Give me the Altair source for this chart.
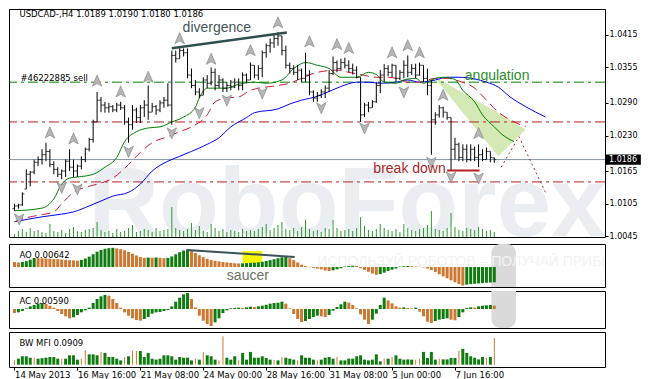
import altair as alt
import pandas as pd

# ---------------- data ----------------
TITLE = "USDCAD-,H4  1.0189 1.0190 1.0180 1.0186"
DATE_TICKS = [0, 16, 32, 48, 64, 80, 96, 112]
DATE_LABELS = ["14 May 2013", "16 May 16:00", "21 May 08:00", "24 May 00:00",
               "28 May 16:00", "31 May 08:00", "5 Jun 00:00", "7 Jun 16:00"]
PRICE_TICKS = [1.0045, 1.0105, 1.0165, 1.0230, 1.0290, 1.0355, 1.0415]
AO_TICKS = [-0.01125, 0.0, 0.01188]
AC_TICKS = [-0.00345, 0.0, 0.00321]
MFI_TICKS = [0.0, 0.1018]

HIGH = [1.0105, 1.0105, 1.0126, 1.0168, 1.0165, 1.0186, 1.0192, 1.0205, 1.0217, 1.0205,
        1.0183, 1.0172, 1.0168, 1.0186, 1.0205, 1.0186, 1.0177, 1.0192, 1.0208, 1.0226,
        1.0259, 1.0310, 1.0301, 1.0292, 1.0290, 1.0286, 1.0290, 1.0292, 1.0286, 1.0263,
        1.0286, 1.0281, 1.0286, 1.0295, 1.0322, 1.0290, 1.0286, 1.0295, 1.0301, 1.0326,
        1.0386, 1.0386, 1.0391, 1.0390, 1.0390, 1.0353, 1.0332, 1.0317, 1.0337, 1.0341,
        1.0355, 1.0353, 1.0341, 1.0335, 1.0328, 1.0332, 1.0335, 1.0335, 1.0346, 1.0344,
        1.0364, 1.0359, 1.0359, 1.0386, 1.0399, 1.0408, 1.0417, 1.0420, 1.0413, 1.0395,
        1.0364, 1.0359, 1.0359, 1.0353, 1.0382, 1.0350, 1.0313, 1.0310, 1.0315, 1.0322,
        1.0350, 1.0375, 1.0368, 1.0371, 1.0373, 1.0368, 1.0362, 1.0357, 1.0337, 1.0290,
        1.0292, 1.0295, 1.0328, 1.0350, 1.0361, 1.0359, 1.0362, 1.0359, 1.0350, 1.0368,
        1.0377, 1.0361, 1.0362, 1.0364, 1.0359, 1.0353, 1.0332, 1.0273, 1.0286, 1.0283,
        1.0273, 1.0263, 1.0226, 1.0217, 1.0214, 1.0214, 1.0214, 1.0210, 1.0214, 1.0205,
        1.0208, 1.0201, 1.0190]
LOW = [1.0092, 1.0096, 1.0101, 1.0132, 1.0137, 1.0159, 1.0174, 1.0177, 1.0183, 1.0172,
       1.0159, 1.0154, 1.0150, 1.0154, 1.0165, 1.0154, 1.0154, 1.0168, 1.0181, 1.0201,
       1.0217, 1.0255, 1.0273, 1.0272, 1.0272, 1.0273, 1.0273, 1.0277, 1.0250, 1.0217,
       1.0241, 1.0253, 1.0253, 1.0264, 1.0259, 1.0273, 1.0268, 1.0273, 1.0281, 1.0283,
       1.0250, 1.0364, 1.0371, 1.0375, 1.0335, 1.0317, 1.0304, 1.0299, 1.0304, 1.0317,
       1.0322, 1.0313, 1.0317, 1.0310, 1.0310, 1.0313, 1.0317, 1.0313, 1.0313, 1.0326,
       1.0332, 1.0335, 1.0332, 1.0337, 1.0373, 1.0382, 1.0391, 1.0395, 1.0377, 1.0353,
       1.0344, 1.0341, 1.0332, 1.0328, 1.0328, 1.0304, 1.0292, 1.0292, 1.0299, 1.0299,
       1.0310, 1.0341, 1.0346, 1.0350, 1.0353, 1.0346, 1.0342, 1.0335, 1.0255, 1.0264,
       1.0273, 1.0281, 1.0290, 1.0308, 1.0328, 1.0339, 1.0337, 1.0328, 1.0332, 1.0335,
       1.0337, 1.0341, 1.0335, 1.0340, 1.0328, 1.0304, 1.0195, 1.0250, 1.0263, 1.0263,
       1.0259, 1.0165, 1.0186, 1.0183, 1.0183, 1.0181, 1.0183, 1.0183, 1.0172, 1.0183,
       1.0186, 1.0181, 1.0180]
OPEN = [1.0096, 1.0101, 1.0103, 1.0132, 1.0159, 1.0163, 1.0181, 1.0186, 1.0195, 1.0201,
        1.0177, 1.0168, 1.0159, 1.0165, 1.0183, 1.0172, 1.0165, 1.0174, 1.0186, 1.0205,
        1.0223, 1.0255, 1.0295, 1.0286, 1.0281, 1.0283, 1.0277, 1.0286, 1.0281, 1.0255,
        1.0250, 1.0277, 1.0263, 1.0281, 1.0286, 1.0273, 1.0283, 1.0277, 1.0290, 1.0295,
        1.0286, 1.0377, 1.0371, 1.0386, 1.0382, 1.0341, 1.0322, 1.0310, 1.0304, 1.0332,
        1.0326, 1.0346, 1.0322, 1.0332, 1.0317, 1.0322, 1.0319, 1.0328, 1.0322, 1.0341,
        1.0332, 1.0359, 1.0341, 1.0353, 1.0382, 1.0395, 1.0400, 1.0408, 1.0413, 1.0386,
        1.0359, 1.0353, 1.0346, 1.0350, 1.0335, 1.0341, 1.0310, 1.0299, 1.0304, 1.0310,
        1.0317, 1.0344, 1.0364, 1.0353, 1.0364, 1.0359, 1.0353, 1.0350, 1.0337, 1.0268,
        1.0286, 1.0281, 1.0292, 1.0322, 1.0341, 1.0353, 1.0346, 1.0359, 1.0335, 1.0346,
        1.0359, 1.0346, 1.0353, 1.0341, 1.0359, 1.0335, 1.0322, 1.0259, 1.0268, 1.0281,
        1.0273, 1.0263, 1.0205, 1.0214, 1.0190, 1.0205, 1.0186, 1.0205, 1.0190, 1.0195,
        1.0186, 1.0201, 1.0189]
CLOSE = [1.0101, 1.0103, 1.0123, 1.0159, 1.0163, 1.0181, 1.0186, 1.0195, 1.0201, 1.0177,
         1.0168, 1.0159, 1.0165, 1.0183, 1.0172, 1.0165, 1.0174, 1.0186, 1.0205, 1.0223,
         1.0255, 1.0295, 1.0286, 1.0281, 1.0283, 1.0277, 1.0286, 1.0281, 1.0255, 1.0250,
         1.0277, 1.0263, 1.0281, 1.0286, 1.0273, 1.0283, 1.0277, 1.0290, 1.0295, 1.0286,
         1.0377, 1.0371, 1.0386, 1.0382, 1.0341, 1.0322, 1.0310, 1.0304, 1.0332, 1.0326,
         1.0346, 1.0322, 1.0332, 1.0317, 1.0322, 1.0319, 1.0328, 1.0322, 1.0341, 1.0332,
         1.0359, 1.0341, 1.0353, 1.0382, 1.0395, 1.0400, 1.0408, 1.0413, 1.0386, 1.0359,
         1.0353, 1.0346, 1.0350, 1.0335, 1.0341, 1.0310, 1.0299, 1.0304, 1.0310, 1.0317,
         1.0344, 1.0364, 1.0353, 1.0364, 1.0359, 1.0353, 1.0350, 1.0337, 1.0268, 1.0286,
         1.0281, 1.0292, 1.0322, 1.0341, 1.0353, 1.0346, 1.0359, 1.0335, 1.0346, 1.0359,
         1.0346, 1.0353, 1.0341, 1.0359, 1.0335, 1.0322, 1.0259, 1.0268, 1.0281, 1.0273,
         1.0263, 1.0205, 1.0214, 1.0190, 1.0205, 1.0186, 1.0205, 1.0190, 1.0195, 1.0186,
         1.0201, 1.0190, 1.0186]
VOLUME = [300, 600, 800, 500, 900, 600, 700, 500, 400, 1300,
          600, 500, 700, 400, 800, 1000, 600, 500, 700, 800,
          900, 1500, 700, 500, 600, 400, 800, 500, 600, 900,
          1200, 500, 600, 800, 700, 500, 900, 600, 700, 800,
          3000, 900, 700, 600, 800, 1400, 700, 1100, 600, 500,
          1300, 900, 600, 800, 500, 700, 600, 500, 800, 600,
          700, 600, 800, 1000, 1300, 700, 900, 1200, 1500, 800,
          700, 900, 600, 1000, 1700, 800, 600, 700, 500, 900,
          800, 1700, 900, 600, 700, 800, 600, 900, 2000, 1100,
          700, 600, 800, 1300, 900, 700, 600, 800, 500, 1300,
          900, 700, 600, 800, 900, 1200, 2600, 800, 700, 600,
          900, 2400, 1000, 700, 600, 900, 800, 700, 1000, 800,
          600, 700, 500]

GREEN_IDX = [0, 7, 10, 12, 14, 16, 20, 23, 26, 28, 31, 34, 37, 40, 43, 46, 47, 49, 54, 56,
             61, 64, 68, 71, 74, 77, 80, 83, 87, 90, 92, 94, 97, 99, 102, 104, 107, 109, 112, 114,
             117, 119, 122, 124, 127]
GREEN_MA = [1.0092, 1.0097, 1.0114, 1.0141, 1.0152, 1.0154, 1.0159, 1.0172, 1.0190, 1.0219,
            1.0237, 1.0244, 1.0246, 1.0255, 1.0264, 1.0282, 1.0299, 1.0317, 1.0317, 1.0322,
            1.0328, 1.0326, 1.0332, 1.0353, 1.0364, 1.0359, 1.0353, 1.0337, 1.0337, 1.0346,
            1.0342, 1.0328, 1.0326, 1.0332, 1.0335, 1.0326, 1.0335, 1.0337, 1.0333, 1.0313,
            1.0292, 1.0268, 1.0246, 1.0232, 1.0219]
RED_IDX = [0, 4, 7, 10, 12, 15, 19, 22, 25, 29, 32, 35, 39, 42, 45, 49, 51, 54, 57, 60,
           67, 70, 72, 77, 82, 85, 88, 92, 95, 97, 100, 103, 107, 110, 113, 117, 120, 123, 126, 130]
RED_MA = [1.0072, 1.0081, 1.0085, 1.0090, 1.0105, 1.0126, 1.0137, 1.0143, 1.0152, 1.0177,
          1.0199, 1.0217, 1.0228, 1.0237, 1.0246, 1.0268, 1.0292, 1.0299, 1.0301, 1.0313,
          1.0322, 1.0326, 1.0332, 1.0346, 1.0350, 1.0346, 1.0342, 1.0337, 1.0337, 1.0335,
          1.0328, 1.0328, 1.0335, 1.0335, 1.0330, 1.0317, 1.0295, 1.0273, 1.0259, 1.0246]
BLUE_IDX = [0, 7, 12, 15, 19, 22, 25, 29, 32, 35, 39, 42, 45, 49, 52, 55, 59, 61, 67, 70,
            73, 77, 80, 83, 87, 90, 93, 97, 100, 103, 107, 110, 113, 117, 120, 123, 126, 130, 135]
BLUE_MA = [1.0072, 1.0081, 1.0086, 1.0090, 1.0101, 1.0110, 1.0119, 1.0126, 1.0141, 1.0165,
           1.0183, 1.0192, 1.0201, 1.0214, 1.0226, 1.0246, 1.0263, 1.0272, 1.0279, 1.0288,
           1.0295, 1.0302, 1.0311, 1.0320, 1.0328, 1.0328, 1.0326, 1.0328, 1.0332, 1.0328,
           1.0332, 1.0337, 1.0337, 1.0334, 1.0328, 1.0319, 1.0301, 1.0283, 1.0264]

UP_FRACTAL_IDX = [9, 15, 21, 27, 34, 42, 50, 60, 67, 75, 82, 85, 96, 100, 103, 109, 118]
UP_FRACTAL_PRICE = [1.0235, 1.0224, 1.0330, 1.0310, 1.0337, 1.0408, 1.0370, 1.0386, 1.0437,
                    1.0402, 1.0397, 1.0390, 1.0382, 1.0395, 1.0382, 1.0304, 1.0234]
DOWN_FRACTAL_IDX = [1.2, 12, 16, 29, 40, 47, 54, 63, 78, 89, 99, 106, 111, 118]
DOWN_FRACTAL_PRICE = [1.0077, 1.0135, 1.0132, 1.0201, 1.0235, 1.0272, 1.0295, 1.0308,
                      1.0281, 1.0244, 1.0310, 1.0181, 1.0154, 1.0152]

SELL_LEVEL = 1.0328
RED_LEVELS = [1.0255, 1.0145]
CURRENT_PRICE = 1.0186

DIVERGENCE_IDX = [40, 69.25]
DIVERGENCE_PRICE = [1.0390, 1.0419]
BREAK_IDX = [110, 118.25]
BREAK_PRICE = [1.0166, 1.0166]
PROJECTION_IDX = [123.75, 128.25, 135]
PROJECTION_PRICE = [1.0172, 1.0228, 1.0126]
WEDGE_IDX = [107.5, 123, 130]
WEDGE_TOP = [1.0335, 1.0272, 1.0241]
WEDGE_BOTTOM = [1.0330, 1.0192, 1.0241]

AO = [0.0042, 0.0038, 0.0043, 0.0050, 0.0062, 0.0076, 0.0075, 0.0074, 0.0072, 0.0070,
      0.0068, 0.0066, 0.0063, 0.0060, 0.0058, 0.0056, 0.0054, 0.0060, 0.0072, 0.0088,
      0.0108, 0.0130, 0.0145, 0.0155, 0.0160, 0.0163, 0.0158, 0.0152, 0.0142, 0.0128,
      0.0113, 0.0098, 0.0085, 0.0078, 0.0080, 0.0079, 0.0081, 0.0078, 0.0075, 0.0077,
      0.0090, 0.0108, 0.0126, 0.0140, 0.0147, 0.0138, 0.0120, 0.0100, 0.0084, 0.0070,
      0.0060, 0.0053, 0.0048, 0.0043, 0.0039, 0.0035, 0.0032, 0.0030, 0.0031, 0.0033,
      0.0035, 0.0037, 0.0040, 0.0044, 0.0050, 0.0058, 0.0066, 0.0075, 0.0082, 0.0086,
      0.0075, 0.0058, 0.0038, 0.0020, 0.0008, -0.0002, -0.0008, -0.0013, -0.0020, -0.0030,
      -0.0034, -0.0028, -0.0020, -0.0011, 0.0004, 0.0008, 0.0010, 0.0008, -0.0011, -0.0025,
      -0.0040, -0.0055, -0.0066, -0.0060, -0.0048, -0.0034, -0.0023, -0.0013, 0.0003, 0.0006,
      0.0008, 0.0006, 0.0004, 0.0002, -0.0004, -0.0012, -0.0026, -0.0042, -0.0062, -0.0080,
      -0.0096, -0.0113, -0.0130, -0.0145, -0.0157, -0.0150, -0.0146, -0.0143, -0.0140, -0.0137,
      -0.0134, -0.0132, -0.0130]
AO_DIV_IDX = [43.75, 71.25]
AO_DIV_VALUE = [0.01445, 0.0085]
SAUCER_IDX = [58, 63]
SAUCER_VALUE = [0.0034, 0.0136]

AC = [-0.0012, -0.0010, -0.0006, 0.0002, 0.0008, 0.0012, 0.0016, 0.0018, 0.0015, 0.0010,
      0.0004, -0.0006, -0.0015, -0.0022, -0.0028, -0.0025, -0.0018, -0.0010, -0.0004, 0.0004,
      0.0018, 0.0030, 0.0038, 0.0042, 0.0040, 0.0030, 0.0018, 0.0004, -0.0010, -0.0020,
      -0.0028, -0.0033, -0.0035, -0.0030, -0.0024, -0.0014, -0.0010, -0.0009, -0.0006, -0.0003,
      0.0008, 0.0022, 0.0034, 0.0044, 0.0048, 0.0030, 0.0005, -0.0020, -0.0035, -0.0045,
      -0.0051, -0.0040, -0.0028, -0.0012, -0.0004, 0.0002, 0.0003, 0.0004, 0.0003, 0.0005,
      0.0007, 0.0006, 0.0008, 0.0010, 0.0013, 0.0016, 0.0018, 0.0019, 0.0022, 0.0016,
      0.0002, -0.0015, -0.0030, -0.0039, -0.0036, -0.0030, -0.0024, -0.0020, -0.0022, -0.0024,
      -0.0018, -0.0005, 0.0006, 0.0014, 0.0022, 0.0019, 0.0012, 0.0002, -0.0016, -0.0032,
      -0.0045, -0.0032, -0.0014, 0.0012, 0.0034, 0.0026, 0.0017, 0.0008, 0.0004, 0.0005,
      0.0003, 0.0002, 0.0004, -0.0008, -0.0022, -0.0038, -0.0042, -0.0036, -0.0032, -0.0030,
      -0.0028, -0.0032, -0.0034, -0.0024, -0.0010, 0.0003, 0.0005, 0.0004, 0.0008, 0.0010,
      0.0011, 0.0012, 0.0010]

MFI = [0.018, 0.025, 0.035, 0.035, 0.029, 0.029, 0.025, 0.027, 0.029, 0.032,
       0.032, 0.025, 0.025, 0.025, 0.039, 0.039, 0.021, 0.025, 0.060, 0.043,
       0.043, 0.039, 0.053, 0.049, 0.032, 0.032, 0.025, 0.018, 0.032, 0.035,
       0.057, 0.057, 0.057, 0.032, 0.049, 0.025, 0.021, 0.025, 0.039, 0.039,
       0.035, 0.021, 0.032, 0.029, 0.029, 0.018, 0.025, 0.021, 0.053, 0.039,
       0.035, 0.021, 0.018, 0.118, 0.029, 0.021, 0.035, 0.018, 0.049, 0.021,
       0.053, 0.029, 0.029, 0.035, 0.028, 0.021, 0.021, 0.018, 0.032, 0.029,
       0.025, 0.021, 0.018, 0.039, 0.029, 0.029, 0.021, 0.018, 0.021, 0.029,
       0.032, 0.025, 0.032, 0.018, 0.018, 0.025, 0.025, 0.035, 0.039, 0.021,
       0.018, 0.021, 0.043, 0.014, 0.025, 0.025, 0.032, 0.039, 0.025, 0.021,
       0.022, 0.021, 0.021, 0.025, 0.053, 0.028, 0.053, 0.021, 0.025, 0.022,
       0.022, 0.028, 0.028, 0.057, 0.066, 0.049, 0.035, 0.029, 0.022, 0.032,
       0.029, 0.032, 0.111]
MFI_TYPE = list("byrrybyygy" "yybyggrbbr" "rybgyyrrby" "bbrrggyggg" "gygrrybybr"
                "rrbbrygbgy" "grrgyybybr" "rybgrrybyg" "rrbryrgrgy" "yygrbybrrr"
                "grbbgrgybr" "ryybgrrryg" "brb")

# ---------------- styling ----------------
FONT = "DejaVu Sans"
W = 596
X_DOMAIN = [-0.125, 148.875]
P_DOMAIN = [1.0044, 1.04622]
AO_DOMAIN = [-0.0170, 0.01955]
AC_DOMAIN = [-0.0057, 0.0054]
MFI_DOMAIN = [-0.0095, 0.1357]

xs = alt.Scale(domain=X_DOMAIN, nice=False, zero=False)
ps = alt.Scale(domain=P_DOMAIN, nice=False, zero=False)


def X(field="i"):
    return alt.X(f"{field}:Q", scale=xs, axis=None)


def PY(field, axis=None):
    return alt.Y(f"{field}:Q", scale=ps, axis=axis)


N = len(HIGH)
bars = pd.DataFrame({"i": list(range(N)), "o": OPEN, "h": HIGH, "l": LOW, "c": CLOSE, "v": VOLUME})

watermark = alt.Chart(pd.DataFrame({"i": [18.75], "p": [1.0046], "t": ["RoboForex"]})).mark_text(
    align="left", baseline="alphabetic", font="Liberation Sans", fontSize=98, fontWeight="bold",
    color="#eaeef2", clip=True
).encode(x=X(), y=PY("p"), text="t:N")

wedge = alt.Chart(pd.DataFrame({"i": WEDGE_IDX, "top": WEDGE_TOP, "bot": WEDGE_BOTTOM})).mark_area(
    color="#d5e9b5", opacity=1, clip=True
).encode(x=X(), y=PY("top"), y2="bot:Q")

volume = alt.Chart(bars).mark_bar(size=1, color="#2f9a2f", clip=True).encode(
    x=X(), y=alt.Y("v:Q", scale=alt.Scale(domain=[0, 22800], nice=False), axis=None), y2=alt.datum(0)
)

sell_line = alt.Chart(pd.DataFrame({"p": [SELL_LEVEL]})).mark_rule(
    color="#008000", strokeDash=[10, 4, 3, 4], strokeWidth=1
).encode(y=PY("p"))
red_lines = alt.Chart(pd.DataFrame({"p": RED_LEVELS})).mark_rule(
    color="#b52020", strokeDash=[10, 4, 3, 4], strokeWidth=1
).encode(y=PY("p"))
cur_line = alt.Chart(pd.DataFrame({"p": [CURRENT_PRICE]})).mark_rule(
    color="#8494a4", strokeWidth=1
).encode(y=PY("p"))

blue_ma = alt.Chart(pd.DataFrame({"i": BLUE_IDX, "p": BLUE_MA})).mark_line(
    color="#0000ff", strokeWidth=1, interpolate="monotone", clip=True
).encode(x=X(), y=PY("p"))
red_ma = alt.Chart(pd.DataFrame({"i": RED_IDX, "p": RED_MA})).mark_line(
    color="#d0183c", strokeWidth=1, strokeDash=[9, 5], interpolate="monotone", clip=True
).encode(x=X(), y=PY("p"))
green_ma = alt.Chart(pd.DataFrame({"i": GREEN_IDX, "p": GREEN_MA})).mark_line(
    color="#008000", strokeWidth=1, interpolate="monotone", clip=True
).encode(x=X(), y=PY("p"))

price_axis = alt.Axis(orient="right", values=PRICE_TICKS, format=".4f", tickSize=3,
                      labelPadding=1, title=None, labelOverlap=False)
hl = alt.Chart(bars).mark_rule(color="black", strokeWidth=1, clip=True).encode(
    x=X(), y=PY("l", price_axis), y2="h:Q")
open_tick = alt.Chart(bars).mark_tick(orient="horizontal", size=2, thickness=1, color="black",
                                      xOffset=-1, clip=True).encode(x=X(), y=PY("o"))
close_tick = alt.Chart(bars).mark_tick(orient="horizontal", size=2, thickness=1, color="black",
                                       xOffset=1, clip=True).encode(x=X(), y=PY("c"))

UP_SHAPE = "M0,-1L0.8,0.85L0,0.4L-0.8,0.85Z"
DOWN_SHAPE = "M0,1L0.8,-0.85L0,-0.4L-0.8,-0.85Z"
up_fr = alt.Chart(pd.DataFrame({"i": UP_FRACTAL_IDX, "p": UP_FRACTAL_PRICE})).mark_point(
    shape=UP_SHAPE, size=144, filled=True, fill="#b6b6b6", stroke="#7c7c7c", strokeWidth=0.6,
    opacity=1, clip=True).encode(x=X(), y=PY("p"))
down_fr = alt.Chart(pd.DataFrame({"i": DOWN_FRACTAL_IDX, "p": DOWN_FRACTAL_PRICE})).mark_point(
    shape=DOWN_SHAPE, size=144, filled=True, fill="#b6b6b6", stroke="#7c7c7c", strokeWidth=0.6,
    opacity=1, clip=True).encode(x=X(), y=PY("p"))

div_line = alt.Chart(pd.DataFrame({"i": DIVERGENCE_IDX, "p": DIVERGENCE_PRICE})).mark_line(
    color="#2f4f4f", strokeWidth=2.5, clip=True).encode(x=X(), y=PY("p"))
break_line = alt.Chart(pd.DataFrame({"i": BREAK_IDX, "p": BREAK_PRICE})).mark_line(
    color="#b22222", strokeWidth=2, clip=True).encode(x=X(), y=PY("p"))
proj_line = alt.Chart(pd.DataFrame({"i": PROJECTION_IDX, "p": PROJECTION_PRICE})).mark_line(
    color="#9b2a35", strokeWidth=1, strokeDash=[2, 3], clip=True).encode(x=X(), y=PY("p"))


def label(i, p, text, color, size, font=FONT):
    return alt.Chart(pd.DataFrame({"i": [i], "p": [p], "t": [text]})).mark_text(
        align="left", baseline="alphabetic", font=font, fontSize=size, color=color, clip=True
    ).encode(x=X(), y=PY("p"), text="t:N")


header = label(1.25, 1.04468, TITLE, "black", 8.5)
sell_txt = label(1.5, 1.0331, "#46222885 sell", "black", 8.5)
div_txt = label(42.75, 1.0420, "divergence", "#43555c", 14, "Liberation Sans")
ang_txt = label(114.5, 1.0332, "angulation", "#2e8b2e", 14, "Liberation Sans")
brk_txt = label(91.25, 1.0161, "break down", "#a82828", 14, "Liberation Sans")

cur_df = pd.DataFrame({"p": [CURRENT_PRICE], "t": [f"{CURRENT_PRICE:.4f}"]})
cur_box = alt.Chart(cur_df).mark_point(
    shape="M-1.4,-0.4L1.4,-0.4L1.4,0.4L-1.4,0.4Z", size=650, filled=True, color="black", opacity=1
).encode(x=alt.value(W + 18), y=PY("p"))
cur_txt = alt.Chart(cur_df).mark_text(align="left", baseline="middle", font=FONT, fontSize=8,
                                      color="white").encode(x=alt.value(W + 4), y=PY("p"), text="t:N")

main = alt.layer(
    watermark, wedge, volume, sell_line, red_lines, cur_line, blue_ma, red_ma, green_ma,
    hl, open_tick, close_tick, up_fr, down_fr, div_line, break_line, proj_line,
    header, sell_txt, div_txt, ang_txt, brk_txt, cur_box, cur_txt
).resolve_scale(y="independent").properties(width=W, height=228)

LABEL5 = "datum.value == 0 ? '0.00' : (datum.value < 0 ? '-' + format(-datum.value, '.5f') : format(datum.value, '.5f'))"

# ---------------- AO ----------------
ao_s = alt.Scale(domain=AO_DOMAIN, nice=False, zero=False)
ao_df = pd.DataFrame({"i": list(range(N)), "v": AO})
ao_df["dir"] = ["down"] + ["up" if AO[k] > AO[k - 1] else "down" for k in range(1, N)]
ao_axis = alt.Axis(orient="right", values=AO_TICKS, tickSize=3, labelPadding=1, title=None,
                   labelOverlap=False, labelExpr=LABEL5)

logo_df = pd.DataFrame({"a": [121.25], "b": [127.5]})
ao_logo = alt.Chart(logo_df).mark_rect(color="#dadada", cornerRadiusTopLeft=9,
                                       cornerRadiusTopRight=9).encode(
    x=alt.X("a:Q", scale=xs, axis=None), x2="b:Q")
ao_ru = alt.Chart(pd.DataFrame({"i": [77], "v": [0.0012], "t": ["ИСПОЛЬЗУЙ РОБОТОВ – ПОЛУЧАЙ ПРИБЫЛЬ"]})).mark_text(
    align="left", baseline="alphabetic", font="Liberation Sans", fontSize=14, color="#f2f2f2", clip=True
).encode(x=X(), y=alt.Y("v:Q", scale=ao_s, axis=None), text="t:N")
ao_yellow = alt.Chart(pd.DataFrame({"a": [SAUCER_IDX[0]], "b": [SAUCER_IDX[1]],
                                    "lo": [SAUCER_VALUE[0]], "hi": [SAUCER_VALUE[1]]})).mark_rect(
    color="#f7f700").encode(x=alt.X("a:Q", scale=xs, axis=None), x2="b:Q",
                            y=alt.Y("lo:Q", scale=ao_s, axis=None), y2="hi:Q")
ao_bars = alt.Chart(ao_df).mark_bar(size=3, clip=True).encode(
    x=X(), y=alt.Y("v:Q", scale=ao_s, axis=ao_axis), y2=alt.datum(0),
    color=alt.Color("dir:N", scale=alt.Scale(domain=["up", "down"], range=["#107c10", "#cf7832"]), legend=None))
ao_div = alt.Chart(pd.DataFrame({"i": AO_DIV_IDX, "v": AO_DIV_VALUE})).mark_line(
    color="#3b5257", strokeWidth=2, clip=True).encode(x=X(), y=alt.Y("v:Q", scale=ao_s, axis=None))
ao_lbl = alt.Chart(pd.DataFrame({"i": [1.25], "v": [0.00765], "t": ["AO 0.00642"]})).mark_text(
    align="left", baseline="alphabetic", font=FONT, fontSize=8.5, color="black", clip=True
).encode(x=X(), y=alt.Y("v:Q", scale=ao_s, axis=None), text="t:N")
saucer_txt = alt.Chart(pd.DataFrame({"i": [54], "v": [-0.01105], "t": ["saucer"]})).mark_text(
    align="left", baseline="alphabetic", font="Liberation Sans", fontSize=14, color="#6b7262", clip=True
).encode(x=X(), y=alt.Y("v:Q", scale=ao_s, axis=None), text="t:N")

ao_chart = alt.layer(ao_logo, ao_ru, ao_yellow, ao_bars, ao_div, ao_lbl, saucer_txt).properties(
    width=W, height=43)

# ---------------- AC ----------------
ac_s = alt.Scale(domain=AC_DOMAIN, nice=False, zero=False)
ac_df = pd.DataFrame({"i": list(range(N)), "v": AC})
ac_df["dir"] = ["down"] + ["up" if AC[k] > AC[k - 1] else "down" for k in range(1, N)]
ac_axis = alt.Axis(orient="right", values=AC_TICKS, tickSize=3, labelPadding=1, title=None,
                   labelOverlap=False, labelExpr=LABEL5)
ac_logo = alt.Chart(logo_df).mark_rect(color="#dadada", cornerRadiusBottomLeft=9,
                                       cornerRadiusBottomRight=9).encode(
    x=alt.X("a:Q", scale=xs, axis=None), x2="b:Q")
ac_bars = alt.Chart(ac_df).mark_bar(size=3, clip=True).encode(
    x=X(), y=alt.Y("v:Q", scale=ac_s, axis=ac_axis), y2=alt.datum(0),
    color=alt.Color("dir:N", scale=alt.Scale(domain=["up", "down"], range=["#107c10", "#dc143c"]), legend=None))
ac_lbl = alt.Chart(pd.DataFrame({"i": [1.25], "v": [0.0015], "t": ["AC 0.00590"]})).mark_text(
    align="left", baseline="alphabetic", font=FONT, fontSize=8.5, color="black", clip=True
).encode(x=X(), y=alt.Y("v:Q", scale=ac_s, axis=None), text="t:N")
ac_chart = alt.layer(ac_logo, ac_bars, ac_lbl).properties(width=W, height=37)

# ---------------- BW MFI ----------------
mfi_s = alt.Scale(domain=MFI_DOMAIN, nice=False, zero=False)
type_names = {"g": "up", "y": "fade", "b": "fake", "r": "squat"}
mfi_df = pd.DataFrame({"i": list(range(N)), "v": MFI, "type": [type_names[t] for t in MFI_TYPE]})
mfi_color = alt.Color("type:N", scale=alt.Scale(domain=["up", "fade", "fake", "squat"],
                                                range=["#2e8b57", "#b8860b", "#00007a", "#dc143c"]),
                      legend=None)
label_expr = " : ".join(f"datum.value == {t} ? '{s}'" for t, s in zip(DATE_TICKS, DATE_LABELS)) + " : ''"
x_axis = alt.Axis(values=DATE_TICKS, labelExpr=label_expr, tickSize=3, labelAlign="left",
                  labelPadding=0, labelFlush=False, labelOverlap=False, title=None, domain=False,
                  labelFontSize=8.5, labelBaseline="top")
mfi_axis = alt.Axis(orient="right", values=MFI_TICKS, tickSize=3, labelPadding=1, title=None,
                    labelOverlap=False, labelExpr="datum.value == 0 ? '0' : '0.1018'")
mfi_main = alt.Chart(mfi_df).transform_filter("datum.type != 'fake'").mark_bar(size=3, clip=True).encode(
    x=alt.X("i:Q", scale=xs, axis=x_axis), y=alt.Y("v:Q", scale=mfi_s, axis=mfi_axis),
    y2=alt.datum(0), color=mfi_color)
mfi_fake = alt.Chart(mfi_df).transform_filter("datum.type == 'fake'").mark_bar(size=1, clip=True).encode(
    x=alt.X("i:Q", scale=xs), y=alt.Y("v:Q", scale=mfi_s, axis=None), y2=alt.datum(0), color=mfi_color)
mfi_lbl = alt.Chart(pd.DataFrame({"i": [1.25], "v": [0.0776], "t": ["BW MFI 0.0909"]})).mark_text(
    align="left", baseline="alphabetic", font=FONT, fontSize=8.5, color="black", clip=True
).encode(x=alt.X("i:Q", scale=xs), y=alt.Y("v:Q", scale=mfi_s, axis=None), text="t:N")
mfi_chart = alt.layer(mfi_main, mfi_fake, mfi_lbl).properties(width=W, height=35)

chart = alt.vconcat(main, ao_chart, ac_chart, mfi_chart, spacing=2).properties(
    padding={"left": 0, "top": 0, "right": 0, "bottom": 0}, background="white"
).configure(padding={"left": 0, "top": 0, "right": 0, "bottom": 0}).configure_view(
    stroke="black", strokeWidth=1
).configure_axis(
    labelFont=FONT, labelFontSize=8, labelColor="black", tickColor="black", domain=False, grid=False
)

chart.save("out.html", embed_options={"renderer": "svg", "actions": False})
